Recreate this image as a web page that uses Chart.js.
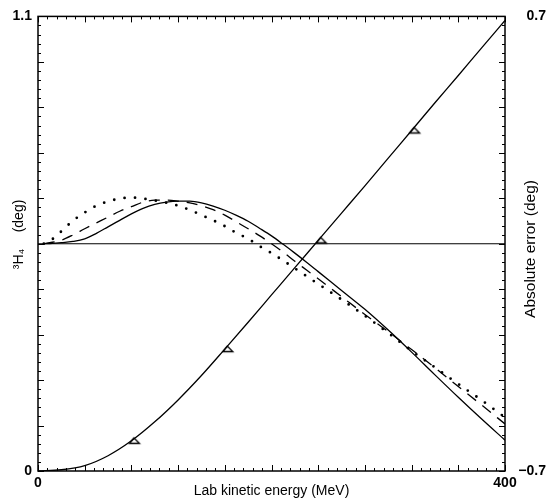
<!DOCTYPE html>
<html>
<head>
<meta charset="utf-8">
<title>3H4 phase shift</title>
<script src="https://cdn.jsdelivr.net/npm/chart.js@4.4.1/dist/chart.umd.min.js"></script>
<style>
    html, body { margin: 0; padding: 0; background: #fff; }
    canvas { display: block; }
</style>
</head>
<body>
<canvas id="phase-chart" width="546" height="500"></canvas>
<script>
// 3H4 phase shift (left axis) and absolute error of three fits (right axis)
const phaseEnergy = [0, 20, 40, 60, 80, 100, 120, 140, 160, 180, 200, 220, 240, 260, 280, 300, 320, 340, 360, 380, 400];
const phaseShift = [0, 0.003, 0.013, 0.037, 0.073, 0.119, 0.172, 0.231, 0.295, 0.36, 0.426, 0.492, 0.558, 0.624, 0.69, 0.757, 0.824, 0.891, 0.957, 1.024, 1.09];

// measured points (open triangles)
const markerEnergy = [80, 160, 240, 320];
const markerShift = [0.073, 0.295, 0.558, 0.824];

const errorEnergy = [5, 10, 20, 30, 40, 50, 60, 70, 80, 90, 100, 110, 120, 130, 140, 150, 160, 170, 180, 190, 200, 210, 220, 230, 240, 260, 280, 300, 320, 340, 360, 380, 400];
const errorSolid = [0, 0.0005, 0.003, 0.007, 0.015, 0.032, 0.052, 0.072, 0.092, 0.109, 0.121, 0.128, 0.131, 0.131, 0.126, 0.116, 0.103, 0.087, 0.069, 0.047, 0.024, -0.002, -0.029, -0.057, -0.086, -0.144, -0.202, -0.266, -0.334, -0.404, -0.473, -0.54, -0.605];
const errorDashed = [0, 0.003, 0.011, 0.027, 0.046, 0.064, 0.082, 0.1, 0.114, 0.128, 0.134, 0.134, 0.131, 0.126, 0.117, 0.105, 0.088, 0.067, 0.046, 0.024, 0.0, -0.026, -0.054, -0.081, -0.108, -0.163, -0.218, -0.271, -0.326, -0.382, -0.44, -0.497, -0.555];
const errorDotted = [0, 0.008, 0.038, 0.071, 0.096, 0.117, 0.13, 0.139, 0.142, 0.139, 0.133, 0.126, 0.117, 0.104, 0.088, 0.072, 0.054, 0.033, 0.015, -0.008, -0.029, -0.052, -0.076, -0.1, -0.124, -0.172, -0.222, -0.275, -0.33, -0.381, -0.432, -0.482, -0.535];

// labelled ticks
const xTicks = [0, 400];
const xTickLabels = ['0', '400'];
const leftTicks = [0, 1.1];
const leftTickLabels = ['0', '1.1'];
const rightTicks = [-0.7, 0.7];
const rightTickLabels = ['\u22120.7', '0.7'];

const FONT = "'Liberation Sans', Arial, sans-serif";


document.addEventListener('DOMContentLoaded', function() {
    DrawChart();
})


function Pairs(xs, ys) {
    let out = [];
    for (let i = 0; i < xs.length; i++) {
        out.push({x: xs[i], y: ys[i]});
    }
    return out;
}


// small open triangle, left corner sits on the curve
function MakeTriangle() {
    const c = document.createElement('canvas');
    c.width = 24;
    c.height = 14;
    const g = c.getContext('2d');
    g.strokeStyle = '#000';
    g.lineWidth = 1.3;
    g.beginPath();
    g.moveTo(10, 9.5);
    g.lineTo(20, 9.5);
    g.lineTo(14.5, 4);
    g.closePath();
    g.stroke();
    return c;
}


// frame, inward tick marks and the two side titles
const frameTicks = {
    id: 'frameTicks',
    afterDatasetsDraw(chart) {
        const {ctx, chartArea: a, scales: {x, y, y2}} = chart;
        ctx.save();
        ctx.strokeStyle = '#000';
        ctx.lineWidth = 1.5;
        ctx.strokeRect(a.left, a.top, a.right - a.left, a.bottom - a.top);

        ctx.lineWidth = 1;
        ctx.beginPath();
        for (let i = 0; i <= 50; i++) {
            const len = i % 5 === 0 ? 6 : 3;
            const px = Math.round(x.getPixelForValue(i * 8)) + 0.5;
            ctx.moveTo(px, a.bottom);
            ctx.lineTo(px, a.bottom - len);
            ctx.moveTo(px, a.top);
            ctx.lineTo(px, a.top + len);
            const py = Math.round(y.getPixelForValue(i * 0.022)) + 0.5;
            ctx.moveTo(a.left, py);
            ctx.lineTo(a.left + len, py);
            const pr = Math.round(y2.getPixelForValue(-0.7 + i * 0.028)) + 0.5;
            ctx.moveTo(a.right, pr);
            ctx.lineTo(a.right - len, pr);
        }
        ctx.stroke();

        ctx.fillStyle = '#000';
        ctx.font = '14px ' + FONT;
        ctx.textAlign = 'center';
        ctx.textBaseline = 'middle';

        ctx.save();
        ctx.translate(19, 259);
        ctx.rotate(-Math.PI / 2);
        ctx.fillText('\u00b3H\u2084', 0, 0);
        ctx.restore();

        ctx.save();
        ctx.translate(19, 216);
        ctx.rotate(-Math.PI / 2);
        ctx.fillText('(deg)', 0, 0);
        ctx.restore();

        ctx.save();
        ctx.font = '15.5px ' + FONT;
        ctx.translate(531, 249);
        ctx.rotate(-Math.PI / 2);
        ctx.fillText('Absolute error (deg)', 0, 0);
        ctx.restore();

        ctx.restore();
    }
};


function DrawChart() {
    const triangle = MakeTriangle();
    const line = {
        borderColor: '#000',
        backgroundColor: '#000',
        borderWidth: 1.3,
        pointRadius: 0,
        fill: false,
        cubicInterpolationMode: 'monotone'
    };

    new Chart(document.getElementById('phase-chart'), {
        type: 'line',
        data: {
            datasets: [
                Object.assign({}, line, {
                    label: 'phase shift',
                    data: Pairs(phaseEnergy, phaseShift),
                    yAxisID: 'y'
                }),
                {
                    label: 'measured',
                    data: Pairs(markerEnergy, markerShift),
                    yAxisID: 'y',
                    showLine: false,
                    pointStyle: triangle,
                    pointRadius: 6
                },
                Object.assign({}, line, {
                    label: 'zero',
                    data: Pairs([0, 400], [0, 0]),
                    yAxisID: 'y2',
                    borderWidth: 1.1,
                    cubicInterpolationMode: 'default',
                    tension: 0
                }),
                Object.assign({}, line, {
                    label: 'error solid',
                    data: Pairs(errorEnergy, errorSolid),
                    yAxisID: 'y2'
                }),
                Object.assign({}, line, {
                    label: 'error dashed',
                    data: Pairs(errorEnergy, errorDashed),
                    yAxisID: 'y2',
                    borderDash: [11, 8]
                }),
                Object.assign({}, line, {
                    label: 'error dotted',
                    data: Pairs(errorEnergy, errorDotted),
                    yAxisID: 'y2',
                    borderWidth: 2.8,
                    borderDash: [0, 10.5],
                    borderCapStyle: 'round'
                })
            ]
        },
        options: {
            responsive: false,
            animation: false,
            devicePixelRatio: 1,
            layout: { padding: { top: 14, left: 0, right: 0, bottom: 0 } },
            plugins: {
                legend: { display: false },
                tooltip: { enabled: false }
            },
            scales: {
                x: {
                    type: 'linear',
                    position: 'bottom',
                    min: 0,
                    max: 400,
                    afterBuildTicks: s => { s.ticks = xTicks.map(v => ({value: v})); },
                    afterFit: s => { s.height = 29; },
                    grid: { display: false, drawTicks: false },
                    border: { display: false },
                    ticks: {
                        padding: 4,
                        maxRotation: 0,
                        color: '#000',
                        font: { family: FONT, size: 14, weight: 'bold' },
                        callback: (v) => xTickLabels[xTicks.indexOf(v)]
                    },
                    title: {
                        display: true,
                        text: 'Lab kinetic energy (MeV)',
                        color: '#000',
                        font: { family: FONT, size: 14 },
                        padding: { top: 0, bottom: 0 }
                    }
                },
                y: {
                    type: 'linear',
                    position: 'left',
                    min: 0,
                    max: 1.1,
                    afterBuildTicks: s => { s.ticks = leftTicks.map(v => ({value: v})); },
                    afterFit: s => { s.width = 38; },
                    grid: { display: false, drawTicks: false },
                    border: { display: false },
                    ticks: {
                        padding: 6,
                        color: '#000',
                        font: { family: FONT, size: 14, weight: 'bold' },
                        callback: (v) => leftTickLabels[leftTicks.indexOf(v)]
                    }
                },
                y2: {
                    type: 'linear',
                    position: 'right',
                    min: -0.7,
                    max: 0.7,
                    afterBuildTicks: s => { s.ticks = rightTicks.map(v => ({value: v})); },
                    afterFit: s => { s.width = 41; },
                    grid: { display: false, drawTicks: false },
                    border: { display: false },
                    ticks: {
                        padding: 8,
                        crossAlign: 'far',
                        color: '#000',
                        font: { family: FONT, size: 14, weight: 'bold' },
                        callback: (v) => rightTickLabels[rightTicks.indexOf(v)]
                    }
                }
            }
        },
        plugins: [frameTicks]
    })
}
</script>
</body>
</html>
